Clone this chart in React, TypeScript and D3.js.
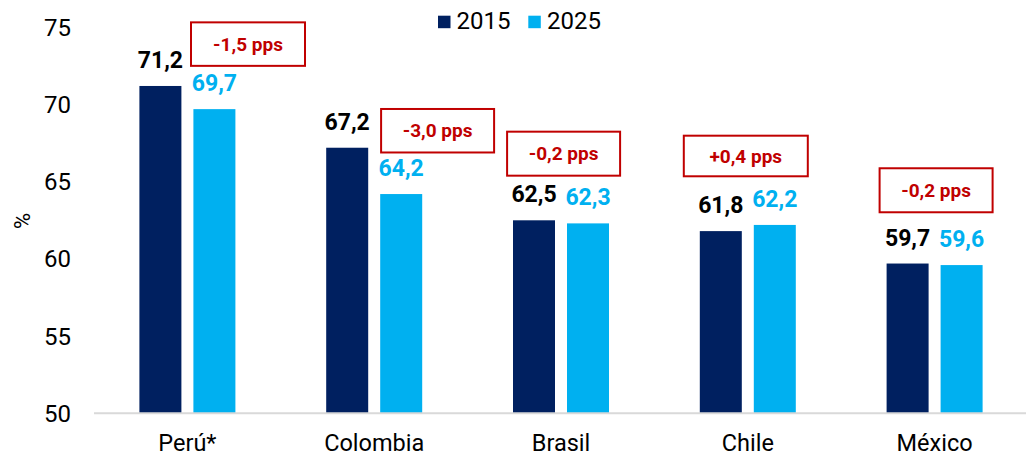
import React from "react";
import * as d3 from "d3";

const categories = ["Perú*", "Colombia", "Brasil", "Chile", "México"];
const values2015 = [71.2, 67.2, 62.5, 61.8, 59.7];
const values2025 = [69.7, 64.2, 62.3, 62.2, 59.6];
const seriesNames = ["2015", "2025"];
const yTicks = [50, 55, 60, 65, 70, 75];
const changeLabels = ["-1,5 pps", "-3,0 pps", "-0,2 pps", "+0,4 pps", "-0,2 pps"];
// annotation box layout: top edge in data units, horizontal offset from category centre (px), width (px)
const boxTopValue = [75.32, 69.71, 68.24, 67.98, 65.87];
const boxDx = [60.6, 63.4, 2.6, -2, 1.5];
const boxW = [114, 113, 113, 124, 113];
const boxH = [43.5, 43.5, 44, 40.6, 44];

const W = 1026;
const H = 455;
const C2015 = "#002060";
const C2025 = "#00B0F0";
const RED = "#C00000";
const FONT = "Roboto, 'Noto Sans', sans-serif";

export default function App() {
  const x = d3.scaleBand<string>().domain(categories).range([94, 1028]).padding(0);
  const y = d3.scaleLinear().domain([50, 75]).range([413.3, 27.3]);
  const barW = 42;
  const gap = 12;
  const cx = (c: string) => (x(c) as number) + x.bandwidth() / 2;

  return (
    <svg width={W} height={H} style={{ display: "block", position: "absolute", left: 0, top: 0 }} fontFamily={FONT}>
      <rect x={0} y={0} width={W} height={H} fill="#fff" />
      {/* y ticks */}
      {yTicks.map((t) => (
        <text key={t} x={71} y={y(t)} dy="0.35em" textAnchor="end" fontSize={24} fill="#000">
          {t}
        </text>
      ))}
      <text transform={`translate(22,221) rotate(-90)`} textAnchor="middle" dy="0.35em" fontSize={22} fill="#000">
        %
      </text>
      {/* bars */}
      {categories.map((c, i) => {
        const c0 = cx(c);
        const x15 = c0 - gap / 2 - barW;
        const x25 = c0 + gap / 2;
        return (
          <g key={c}>
            <rect x={x15} y={y(values2015[i])} width={barW} height={y(50) - y(values2015[i])} fill={C2015} />
            <rect x={x25} y={y(values2025[i])} width={barW} height={y(50) - y(values2025[i])} fill={C2025} />
            <text x={x15 + barW / 2} y={y(values2015[i]) - 18} textAnchor="middle" fontSize={23} fontWeight="bold" fill="#000">
              {values2015[i].toFixed(1).replace(".", ",")}
            </text>
            <text x={x25 + barW / 2} y={y(values2025[i]) - 18} textAnchor="middle" fontSize={23} fontWeight="bold" fill={C2025}>
              {values2025[i].toFixed(1).replace(".", ",")}
            </text>
            <text x={c0} y={450.5} textAnchor="middle" fontSize={23.5} fill="#000">
              {c}
            </text>
          </g>
        );
      })}
      {/* axis */}
      <line x1={94} x2={1026} y1={413.3} y2={413.3} stroke="#d9d9d9" strokeWidth={2} />
      {/* annotations */}
      {categories.map((c, i) => {
        const bx = cx(c) + boxDx[i] - boxW[i] / 2;
        const by = y(boxTopValue[i]);
        return (
          <g key={"a" + c}>
            <rect x={bx} y={by} width={boxW[i]} height={boxH[i]} fill="#fff" stroke={RED} strokeWidth={2} />
            <text x={bx + boxW[i] / 2} y={by + boxH[i] / 2} dy="0.35em" textAnchor="middle" fontSize={19} fontWeight="bold" fill={RED}>
              {changeLabels[i]}
            </text>
          </g>
        );
      })}
      {/* legend */}
      <rect x={438} y={15.7} width={12.5} height={12.5} fill={C2015} />
      <text x={456.5} y={29.3} fontSize={24} fill="#000">{seriesNames[0]}</text>
      <rect x={528.3} y={15.7} width={12.5} height={12.5} fill={C2025} />
      <text x={547} y={29.3} fontSize={24} fill="#000">{seriesNames[1]}</text>
    </svg>
  );
}
